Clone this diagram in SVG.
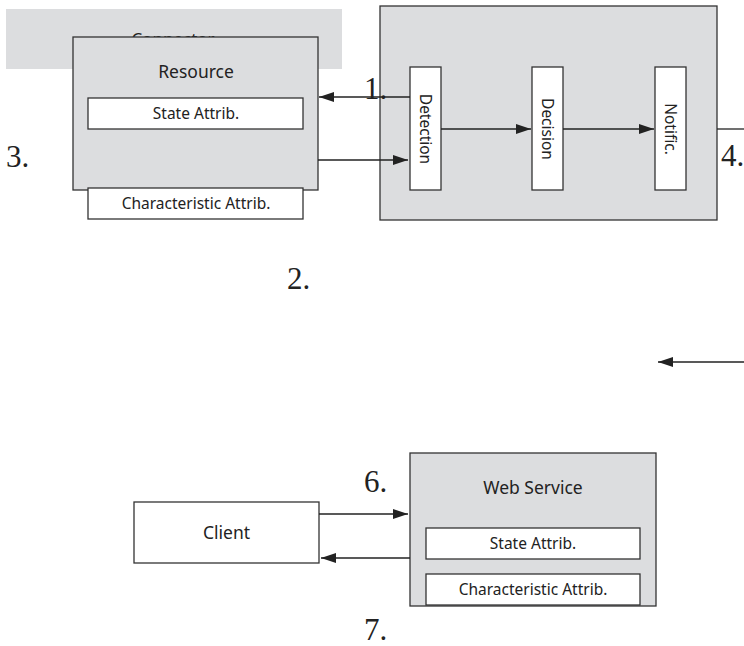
<svg xmlns="http://www.w3.org/2000/svg" width="744" height="646" viewBox="0 0 744 646">
<style>
.box{fill:#dcdddf;stroke:#333;stroke-width:1.3}
.attr{fill:#fff;stroke:#333;stroke-width:1.3}
.t{font-family:"Noto Sans","Open Sans",sans-serif;fill:#222;text-anchor:middle}
.n{font-family:"Liberation Serif",serif;font-size:31px;fill:#222}
.c{stroke:#222;stroke-width:1.3;fill:none}
</style>
<defs>
<marker id="ah" markerWidth="16" markerHeight="10" refX="15" refY="5" orient="auto" markerUnits="userSpaceOnUse">
<path d="M0,0 L15,5 L0,10 Z" fill="#222"/>
</marker>
</defs>
<rect width="744" height="646" fill="#fff"/>
<g id="connector">
<rect x="6" y="9" width="336" height="60" fill="#dcdddf"/>
<text class="t" x="173" y="45" font-size="17">Connector</text>
</g>
<g id="resource">
<rect class="box" x="73" y="37" width="245" height="153"/>
<text class="t" x="196" y="78" font-size="17.5">Resource</text>
<rect class="attr" x="88" y="98" width="215" height="31"/>
<text class="t" x="196" y="119" font-size="15.5">State Attrib.</text>
<rect class="attr" x="88" y="188" width="215" height="31"/>
<text class="t" x="196" y="209" font-size="15.5">Characteristic Attrib.</text>
</g>
<g id="engine">
<rect class="box" x="380" y="6" width="337" height="214"/>
</g>
<g id="detection">
<rect class="attr" x="410" y="67" width="31" height="123"/>
<text class="t" font-size="15.5" transform="translate(420,129) rotate(90)">Detection</text>
</g>
<g id="decision">
<rect class="attr" x="532" y="67" width="31" height="123"/>
<text class="t" font-size="15.5" transform="translate(542,129) rotate(90)">Decision</text>
</g>
<g id="notific">
<rect class="attr" x="655" y="67" width="31" height="123"/>
<text class="t" font-size="15.5" transform="translate(665,129) rotate(90)">Notific.</text>
</g>
<g id="client">
<rect class="attr" x="134" y="502" width="185" height="61"/>
<text class="t" x="226.5" y="539" font-size="17.5">Client</text>
</g>
<g id="webservice">
<rect class="box" x="410" y="453" width="246" height="153"/>
<text class="t" x="533" y="494" font-size="17.5">Web Service</text>
<rect class="attr" x="426" y="528" width="214" height="31"/>
<text class="t" x="533" y="549" font-size="15.5">State Attrib.</text>
<rect class="attr" x="426" y="574" width="214" height="31"/>
<text class="t" x="533" y="595" font-size="15.5">Characteristic Attrib.</text>
</g>
<g id="connectors">
<line class="c" x1="410" y1="97" x2="319" y2="97" marker-end="url(#ah)"/>
<line class="c" x1="318" y1="160" x2="408" y2="160" marker-end="url(#ah)"/>
<line class="c" x1="441" y1="129" x2="531" y2="129" marker-end="url(#ah)"/>
<line class="c" x1="563" y1="129" x2="654" y2="129" marker-end="url(#ah)"/>
<line class="c" x1="717" y1="129" x2="744" y2="129"/>
<line class="c" x1="744" y1="362" x2="658" y2="362" marker-end="url(#ah)"/>
<line class="c" x1="319" y1="514" x2="408" y2="514" marker-end="url(#ah)"/>
<line class="c" x1="410" y1="558" x2="321" y2="558" marker-end="url(#ah)"/>
</g>
<g id="labels">
<text class="n" x="364" y="99">1.</text>
<text class="n" x="287" y="289">2.</text>
<text class="n" x="6" y="167">3.</text>
<text class="n" x="721" y="166">4.</text>
<text class="n" x="364" y="492">6.</text>
<text class="n" x="364" y="640">7.</text>
</g>
</svg>
